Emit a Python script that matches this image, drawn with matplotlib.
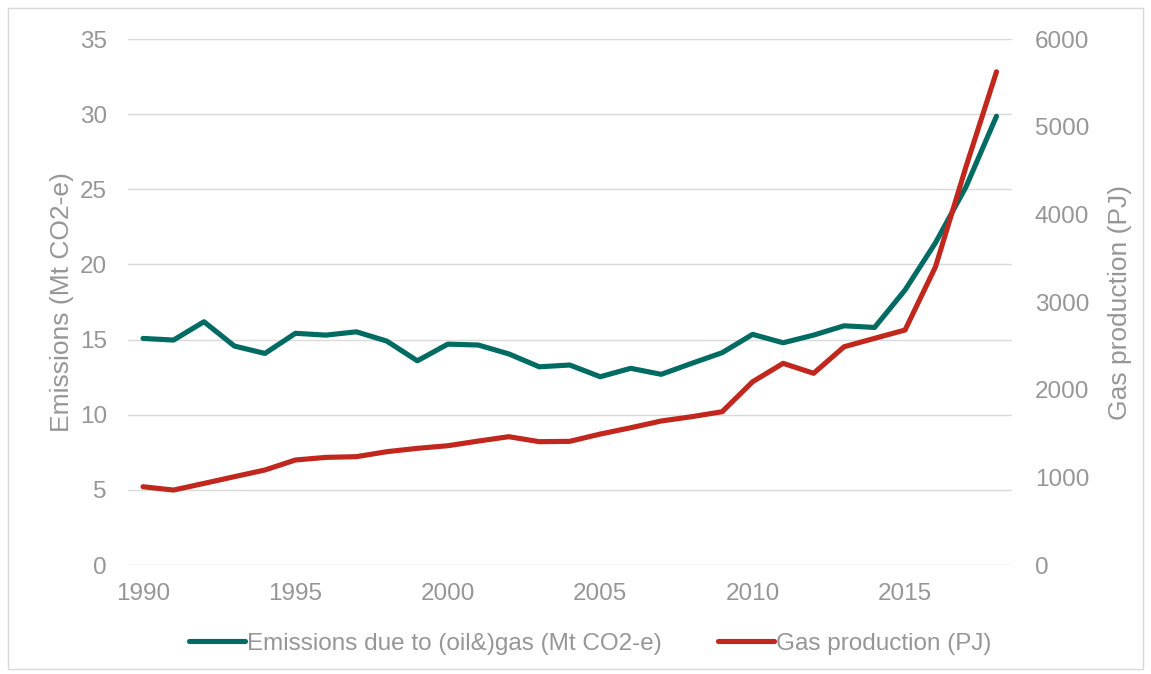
import matplotlib.pyplot as plt
from matplotlib.patches import Rectangle

plt.rcParams['font.family'] = ['Liberation Sans', 'DejaVu Sans']

years = list(range(1990, 2019))
emissions = [15.08, 14.97, 16.19, 14.57, 14.08, 15.42, 15.30, 15.52, 14.90, 13.59,
             14.70, 14.64, 14.05, 13.19, 13.31, 12.53, 13.09, 12.69, 13.42, 14.13,
             15.35, 14.79, 15.30, 15.92, 15.81, 18.30, 21.45, 25.17, 29.87]
gas_pj = [893, 855, 931, 1008, 1084, 1198, 1228, 1236, 1293, 1331,
          1361, 1414, 1464, 1407, 1411, 1494, 1566, 1643, 1692, 1749,
          2091, 2301, 2187, 2490, 2586, 2681, 3403, 4544, 5627]

teal = '#006b62'
red = '#c1271d'
grey = '#969696'

fig = plt.figure(figsize=(11.51, 6.74), dpi=100)
fig.patches.append(Rectangle((0.007, 0.008), 0.986, 0.98, transform=fig.transFigure,
                             fill=False, edgecolor='#d9d9d9', lw=1))
ax = fig.add_axes([0.111, 0.1617, 0.768, 0.7803])
ax2 = ax.twinx()

l1, = ax.plot(years, emissions, color=teal, lw=3.7, solid_capstyle='round',
              label='Emissions due to (oil&)gas (Mt CO2-e)', zorder=3)
l2, = ax2.plot(years, gas_pj, color=red, lw=3.7, solid_capstyle='round',
               label='Gas production (PJ)', zorder=3)

ax.set_xlim(1989.5, 2018.5)
ax.set_ylim(0, 35)
ax.set_yticks(range(0, 36, 5))
ax2.set_ylim(0, 6000)
ax2.set_yticks(range(0, 6001, 1000))
ax.set_xticks(range(1990, 2016, 5))

ax.grid(axis='y', color='#d9d9d9', lw=1)
ax.set_axisbelow(True)
for a in (ax, ax2):
    for s in a.spines.values():
        s.set_visible(False)
    a.tick_params(length=0, labelsize=17.5, colors=grey)
ax.tick_params(axis='y', pad=15)
ax2.tick_params(axis='y', pad=16.5)
ax.tick_params(axis='x', pad=13)

ax.set_ylabel('Emissions (Mt CO2-e)', fontsize=19, color=grey, labelpad=4)
ax2.set_ylabel('Gas production (PJ)', fontsize=19, color=grey, labelpad=14)

fig.legend(handles=[l1, l2], loc='center', bbox_to_anchor=(0.513, 0.045), ncol=2,
           frameon=False, fontsize=17.5, labelcolor=grey, handlelength=2.3,
           handletextpad=0.1, columnspacing=2.3)

fig.savefig('out.png', dpi=100)
